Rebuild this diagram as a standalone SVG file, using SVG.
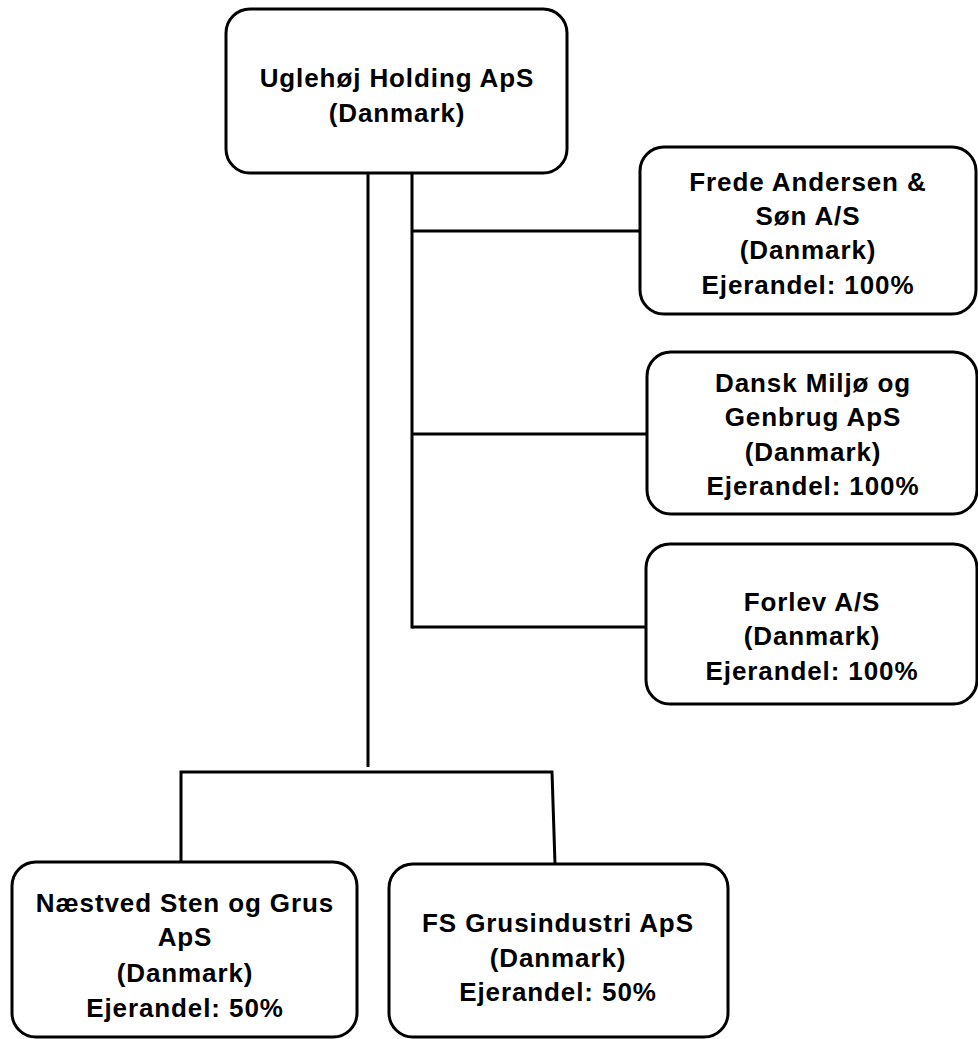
<svg xmlns="http://www.w3.org/2000/svg" width="978" height="1039" viewBox="0 0 978 1039">
<style>
.box{fill:#fff;stroke:#000;stroke-width:3}
.lbl{font-family:"Liberation Sans",Arial,sans-serif;font-weight:bold;font-size:26px;letter-spacing:0.9px;text-anchor:middle;fill:#000}
.con{stroke:#000;stroke-width:3;fill:none}
</style>
<rect width="978" height="1039" fill="#fff"/>
<g id="connectors">
<line class="con" x1="368" y1="173" x2="368" y2="767"/>
<line class="con" x1="412" y1="173" x2="412" y2="628.5"/>
<line class="con" x1="412" y1="231" x2="640" y2="231"/>
<line class="con" x1="412" y1="434" x2="647" y2="434"/>
<line class="con" x1="412" y1="627" x2="646" y2="627"/>
<polyline class="con" points="181,862 181,772 552,772 555,864"/>
</g>
<g id="node-uglehoj">
<rect class="box" x="226" y="9" width="341" height="164" rx="24"/>
<text class="lbl" x="397" y="87">Uglehøj Holding ApS</text>
<text class="lbl" x="397" y="122">(Danmark)</text>
</g>
<g id="node-frede">
<rect class="box" x="640" y="147" width="336" height="167" rx="24"/>
<text class="lbl" x="808" y="191">Frede Andersen &amp;</text>
<text class="lbl" x="808" y="225">Søn A/S</text>
<text class="lbl" x="808" y="259">(Danmark)</text>
<text class="lbl" x="808" y="294">Ejerandel: 100%</text>
</g>
<g id="node-dansk">
<rect class="box" x="647" y="352" width="330" height="162" rx="24"/>
<text class="lbl" x="813" y="392">Dansk Miljø og</text>
<text class="lbl" x="813" y="426">Genbrug ApS</text>
<text class="lbl" x="813" y="461">(Danmark)</text>
<text class="lbl" x="813" y="495">Ejerandel: 100%</text>
</g>
<g id="node-forlev">
<rect class="box" x="646" y="544" width="331" height="160" rx="24"/>
<text class="lbl" x="812" y="611">Forlev A/S</text>
<text class="lbl" x="812" y="645">(Danmark)</text>
<text class="lbl" x="812" y="680">Ejerandel: 100%</text>
</g>
<g id="node-naestved">
<rect class="box" x="12" y="862" width="345" height="175" rx="24"/>
<text class="lbl" x="185" y="912">Næstved Sten og Grus</text>
<text class="lbl" x="185" y="946">ApS</text>
<text class="lbl" x="185" y="982">(Danmark)</text>
<text class="lbl" x="185" y="1017">Ejerandel: 50%</text>
</g>
<g id="node-fs">
<rect class="box" x="389" y="864" width="339" height="173" rx="24"/>
<text class="lbl" x="558" y="932">FS Grusindustri ApS</text>
<text class="lbl" x="558" y="967">(Danmark)</text>
<text class="lbl" x="558" y="1001">Ejerandel: 50%</text>
</g>
</svg>
